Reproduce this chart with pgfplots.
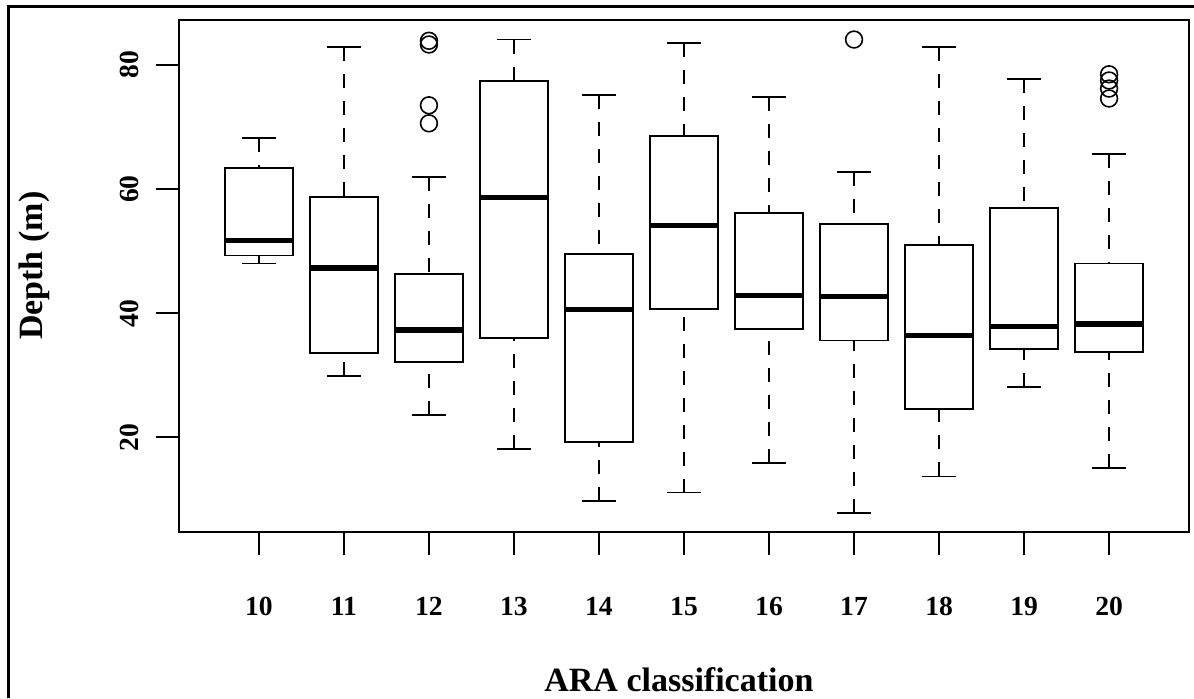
\documentclass[border=0pt]{standalone}
\usepackage{fontspec}
\setmainfont{Liberation Serif}
\usepackage{pgfplots}
\pgfplotsset{compat=1.18}
\usepgfplotslibrary{statistics}
\pgfplotsset{
  boxplot/draw/lower whisker/.code={%
    \draw[line width=0.9pt, dash pattern=on 7pt off 6.5pt]
      (boxplot box cs:\pgfplotsboxplotvalue{lower whisker},0.5) --
      (boxplot box cs:\pgfplotsboxplotvalue{lower quartile},0.5);
    \draw[line width=0.9pt]
      (boxplot whisker cs:\pgfplotsboxplotvalue{lower whisker},0) --
      (boxplot whisker cs:\pgfplotsboxplotvalue{lower whisker},1);
  },
  boxplot/draw/upper whisker/.code={%
    \draw[line width=0.9pt, dash pattern=on 7pt off 6.5pt]
      (boxplot box cs:\pgfplotsboxplotvalue{upper whisker},0.5) --
      (boxplot box cs:\pgfplotsboxplotvalue{upper quartile},0.5);
    \draw[line width=0.9pt]
      (boxplot whisker cs:\pgfplotsboxplotvalue{upper whisker},0) --
      (boxplot whisker cs:\pgfplotsboxplotvalue{upper whisker},1);
  },
  myboxes/.style={
    black, line width=0.9pt, solid, mark=o, mark size=4.2pt,
    mark options={solid, line width=0.8pt},
    boxplot/draw direction=y,
    boxplot/box extend=0.8, boxplot/whisker extend=0.4,
    boxplot/every median/.style={line width=2.6pt},
  },
}
\begin{document}
\begin{tikzpicture}
\useasboundingbox (0,0) rectangle (597pt,349pt);
\draw[line width=1.5pt] (4pt,0) -- (4pt,345.5pt) -- (598pt,345.5pt);
\begin{axis}[
  at={(89.5pt,83pt)}, anchor=south west,
  scale only axis, width=505pt, height=256pt,
  xmin=0.06, xmax=11.94, ymin=4.74, ymax=87.25,
  axis line style={black, line width=0.9pt},
  xtick={1,...,11}, xticklabels={10,11,12,13,14,15,16,17,18,19,20},
  ytick={20,40,60,80},
  xtick pos=bottom, ytick pos=left,
  tick align=outside, major tick length=11.5pt,
  tick style={black, line width=0.9pt},
  /pgf/number format/assume math mode=true,
  ticklabel style={font=\bfseries\fontsize{13.8}{15}\selectfont},
  yticklabel style={rotate=90, anchor=south},
  xticklabel shift=17.5pt,
  yticklabel shift=5pt,
  xlabel={ARA classification},
  ylabel={Depth (m)},
  every axis x label/.style={at={(axis description cs:0.495,0)}, anchor=base, yshift=-79.5pt, font=\bfseries\fontsize{17}{20}\selectfont},
  every axis y label/.style={at={(axis description cs:-0.1347,0.52)}, rotate=90, anchor=base, font=\bfseries\fontsize{17}{20}\selectfont},
]
\addplot[myboxes, boxplot prepared={draw position=1, lower whisker=48.0, lower quartile=49.3, median=51.7, upper quartile=63.35, upper whisker=68.2}] coordinates {};
\addplot[myboxes, boxplot prepared={draw position=2, lower whisker=29.9, lower quartile=33.6, median=47.3, upper quartile=58.7, upper whisker=82.85}] coordinates {};
\addplot[myboxes, boxplot prepared={draw position=3, lower whisker=23.6, lower quartile=32.2, median=37.3, upper quartile=46.3, upper whisker=62.0}] table[row sep=\\, y index=0] {data\\ 83.9\\ 83.3\\ 73.5\\ 70.6\\};
\addplot[myboxes, boxplot prepared={draw position=4, lower whisker=18.1, lower quartile=35.95, median=58.7, upper quartile=77.4, upper whisker=84.1}] coordinates {};
\addplot[myboxes, boxplot prepared={draw position=5, lower whisker=9.7, lower quartile=19.3, median=40.6, upper quartile=49.5, upper whisker=75.2}] coordinates {};
\addplot[myboxes, boxplot prepared={draw position=6, lower whisker=11.1, lower quartile=40.7, median=54.1, upper quartile=68.55, upper whisker=83.5}] coordinates {};
\addplot[myboxes, boxplot prepared={draw position=7, lower whisker=15.9, lower quartile=37.4, median=42.9, upper quartile=56.1, upper whisker=74.9}] coordinates {};
\addplot[myboxes, boxplot prepared={draw position=8, lower whisker=7.75, lower quartile=35.6, median=42.7, upper quartile=54.4, upper whisker=62.8}] table[row sep=\\, y index=0] {data\\ 84.1\\};
\addplot[myboxes, boxplot prepared={draw position=9, lower whisker=13.7, lower quartile=24.5, median=36.4, upper quartile=51.0, upper whisker=82.85}] coordinates {};
\addplot[myboxes, boxplot prepared={draw position=10, lower whisker=28.1, lower quartile=34.2, median=37.8, upper quartile=56.9, upper whisker=77.7}] coordinates {};
\addplot[myboxes, boxplot prepared={draw position=11, lower whisker=15.0, lower quartile=33.8, median=38.25, upper quartile=48.0, upper whisker=65.65}] table[row sep=\\, y index=0] {data\\ 78.5\\ 77.5\\ 76.2\\ 74.6\\};
\end{axis}
\end{tikzpicture}
\end{document}
